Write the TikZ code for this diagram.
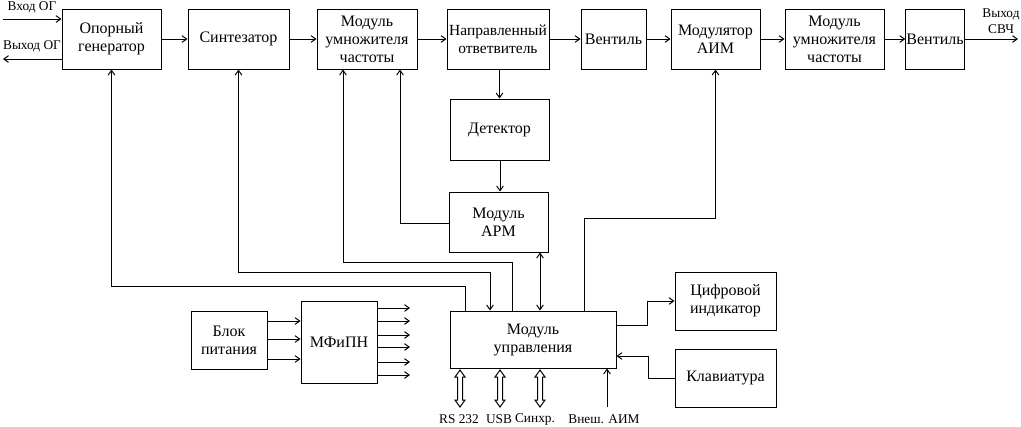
\documentclass[tikz,border=0pt]{standalone}
\usepackage{fontspec}
\setmainfont{Liberation Serif}
\usetikzlibrary{arrows.meta,calc}
\begin{document}
\begin{tikzpicture}[x=0.75pt,y=-0.75pt,
  line width=0.75pt,
  >={Straight Barb[length=3.5pt,width=5pt]},
  box/.style 2 args={draw,rectangle,align=center,inner sep=0.5pt,
     minimum width=#1*0.75pt,minimum height=#2*0.75pt,
     font=\fontsize{12}{13.5}\selectfont},
  small/.style={inner sep=0pt,font=\fontsize{10}{12}\selectfont,align=center},
  bottomlbl/.style={inner sep=0pt,font=\fontsize{10}{12}\selectfont},
  dblarrow/.pic={\draw (0,-18.5) -- (5,-11.5) -- (2.5,-11.5) -- (2.5,11.5) -- (5,11.5)
      -- (0,18.5) -- (-5,11.5) -- (-2.5,11.5) -- (-2.5,-11.5) -- (-5,-11.5) -- cycle;}
]
\useasboundingbox (0,0) rectangle (1021,426);

% top row
\node[box={99}{60}]  (opor)  at (111.5,39) {Опорный\\генератор};
\node[box={101}{60}] (synth) at (238.5,39) {Синтезатор};
\node[box={100}{60}] (mult1) at (367,39)   {Модуль\\умножителя\\частоты};
\node[box={102}{60},font=\fontsize{11.6}{13.5}\selectfont] (napr)  at (498,39)   {Направленный\\ответвитель};
\node[box={65}{60}]  (vent1) at (613.5,39) {Вентиль};
\node[box={89}{60}]  (mod)   at (715.5,39) {Модулятор\\АИМ};
\node[box={99}{60}]  (mult2) at (834.5,39) {Модуль\\умножителя\\частоты};
\node[box={58}{60}]  (vent2) at (935,39)   {Вентиль};

% middle
\node[box={99}{61}]  (det)   at (499.5,129.5) {Детектор};
\node[box={99}{60}]  (apm)   at (498.5,222)   {Модуль\\АРМ};

% bottom
\node[box={166}{57}] (ctrl)  at (533,339.5) {Модуль\\управления};
\node[box={101}{58}] (ind)   at (725.5,301) {Цифровой\\индикатор};
\node[box={101}{58}] (klav)  at (725.5,378) {Клавиатура};
\node[box={76}{58}]  (blok)  at (229,340)   {Блок\\питания};
\node[box={76}{82}]  (mfipn) at (339,342)   {МФиПН};

% inputs / outputs of the reference generator
\coordinate (inOG) at (3,19);
\coordinate (outOG) at (3,59);
\draw[->] (inOG) -- (inOG -| opor.west);
\draw[->] (outOG -| opor.west) -- (outOG);
\node[small] (lblin)  at (32,7)  {Вход ОГ};
\node[small] (lblout) at (32,46) {Выход ОГ};

% main chain
\draw[->] (opor.east) -- (synth.west);
\draw[->] (synth.east) -- (mult1.west);
\draw[->] (mult1.east) -- (napr.west);
\draw[->] (napr.east) -- (vent1.west);
\draw[->] (vent1.east) -- (mod.west);
\draw[->] (mod.east) -- (mult2.west);
\draw[->] (mult2.east) -- (vent2.west);
\coordinate (outSVC) at (1018,39);
\draw[->] (vent2.east) -- (outSVC);
\node[small] (lblsvc) at (1001,21) {Выход\\СВЧ};

% coupler -> detector -> APM
\draw[->] (det.north |- napr.south) -- (det.north);
\coordinate (x500) at (500,0);
\draw[->] (det.south -| x500) -- (apm.north -| x500);

% APM -> multiplier
\coordinate (c400) at (400,223);
\draw[->] (apm.west |- c400) -- (c400) -- (mult1.south -| c400);

% control <-> APM
\coordinate (x540) at (540,0);
\draw[<->] (apm.south -| x540) -- (ctrl.north -| x540);

% control -> multiplier
\coordinate (c512) at (512,262);
\coordinate (x343) at (343,0);
\draw[->] (ctrl.north -| c512) -- (c512) -| (mult1.south -| x343);

% control <-> synthesizer
\coordinate (c490) at (490,272);
\draw[<->] (synth.south) |- (c490) -- (ctrl.north -| c490);

% control -> reference generator
\coordinate (c465) at (465,286);
\draw[->] (ctrl.north -| c465) -- (c465) -| (opor.south);

% control -> modulator
\coordinate (c584) at (584,218);
\draw[->] (ctrl.north -| c584) -- (c584) -| (mod.south);

% control -> indicator
\coordinate (c647) at (647,325);
\draw[->] (ctrl.east |- c647) -- (c647) |- (ind.west);

% keyboard -> control
\coordinate (k648) at (648,356);
\draw[->] (klav.west) -| (k648) -- (ctrl.east |- k648);

% power supply -> MFiPN
\foreach \d in {-19,-1,19} {
  \draw[->] ($(blok.east)+(0,\d)$) coordinate (t) -- (t -| mfipn.west);
}
\foreach \yy in {308,321,335,347,362,375} {
  \draw[->] (mfipn.east |- 0,\yy) -- (410,\yy);
}

% bottom interfaces
\pic at (460,388.5) {dblarrow};
\pic at (500,388.5) {dblarrow};
\pic at (540,388.5) {dblarrow};
\coordinate (aim) at (607,407);
\draw[->] (aim) -- (aim |- ctrl.south);

\node[bottomlbl] (rs)  at (459,419) {RS 232};
\node[bottomlbl] (usb) at (499,419) {USB};
\node[bottomlbl] (syn) at (535,419) {Синхр.};
\node[bottomlbl] (vn)  at (604,419) {Внеш. АИМ};
\end{tikzpicture}
\end{document}
